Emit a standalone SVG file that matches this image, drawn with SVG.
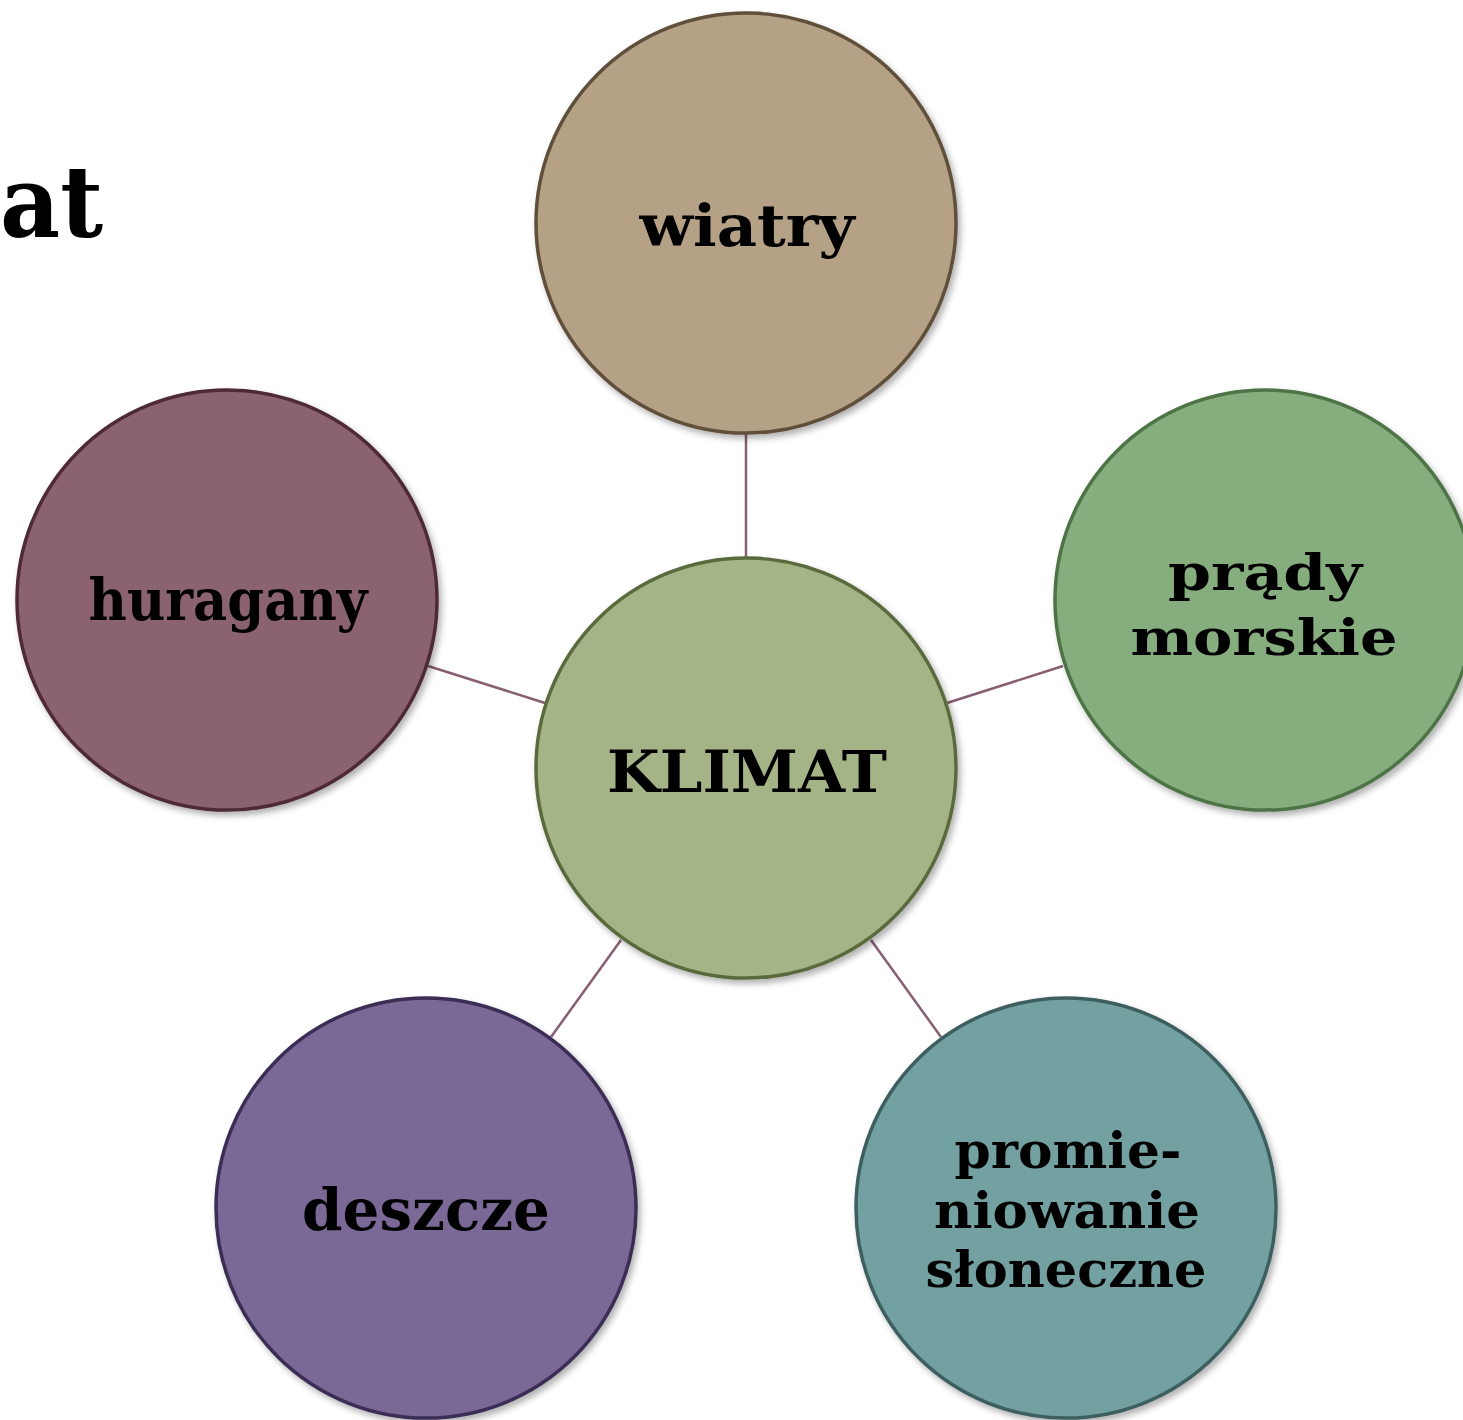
<svg xmlns="http://www.w3.org/2000/svg" width="1463" height="1420" viewBox="0 0 1463 1420">
<style>
.lbl{font-family:"DejaVu Serif","Liberation Serif",serif;font-weight:bold;font-size:58px;fill:#000;text-anchor:middle}
.sm{font-size:51px}
.node{stroke-width:3.5;filter:url(#sh)}
.conn{stroke:#875f72;stroke-width:2.5;fill:none}
</style>
<defs>
<filter id="sh" x="-10%" y="-10%" width="125%" height="125%">
<feDropShadow dx="3" dy="4" stdDeviation="3" flood-color="#000" flood-opacity="0.3"/>
</filter>
</defs>
<rect width="1463" height="1420" fill="#fff"/>
<text x="0" y="237" font-family="DejaVu Serif, Liberation Serif, serif" font-weight="bold" font-size="100" textLength="103" lengthAdjust="spacingAndGlyphs">at</text>
<g id="connectors">
<line class="conn" x1="746" y1="434" x2="746" y2="558"/>
<line class="conn" x1="428" y1="666" x2="545" y2="703"/>
<line class="conn" x1="1063" y1="666" x2="947" y2="703"/>
<line class="conn" x1="551" y1="1037" x2="621" y2="940"/>
<line class="conn" x1="941" y1="1037" x2="871" y2="940"/>
</g>
<g id="wiatry">
<circle class="node" cx="746" cy="223" r="210" fill="#b5a286" stroke="#5f4f3a"/>
<text class="lbl" x="747" y="246" textLength="215" lengthAdjust="spacingAndGlyphs">wiatry</text>
</g>
<g id="klimat">
<circle class="node" cx="746" cy="768" r="210" fill="#a5b486" stroke="#5a6b3e"/>
<text class="lbl" x="747" y="792" font-size="68" textLength="280" lengthAdjust="spacingAndGlyphs">KLIMAT</text>
</g>
<g id="prady">
<circle class="node" cx="1265" cy="600" r="210" fill="#86ad7e" stroke="#4d7346"/>
<text class="lbl sm" x="1265" y="590" textLength="194" lengthAdjust="spacingAndGlyphs">prądy</text>
<text class="lbl sm" x="1264" y="655" textLength="267" lengthAdjust="spacingAndGlyphs">morskie</text>
</g>
<g id="huragany">
<circle class="node" cx="227" cy="600" r="210" fill="#8b6270" stroke="#4e2a36"/>
<text class="lbl" x="228" y="620" textLength="279" lengthAdjust="spacingAndGlyphs">huragany</text>
</g>
<g id="deszcze">
<circle class="node" cx="426" cy="1208" r="210" fill="#7a6896" stroke="#3b2d55"/>
<text class="lbl" x="426" y="1230" textLength="248" lengthAdjust="spacingAndGlyphs">deszcze</text>
</g>
<g id="promieniowanie">
<circle class="node" cx="1066" cy="1208" r="210" fill="#73a0a1" stroke="#3e5f60"/>
<text class="lbl sm" x="1068" y="1168" textLength="227" lengthAdjust="spacingAndGlyphs">promie-</text>
<text class="lbl sm" x="1067" y="1228" textLength="266" lengthAdjust="spacingAndGlyphs">niowanie</text>
<text class="lbl sm" x="1066" y="1287" textLength="281" lengthAdjust="spacingAndGlyphs">słoneczne</text>
</g>
</svg>
